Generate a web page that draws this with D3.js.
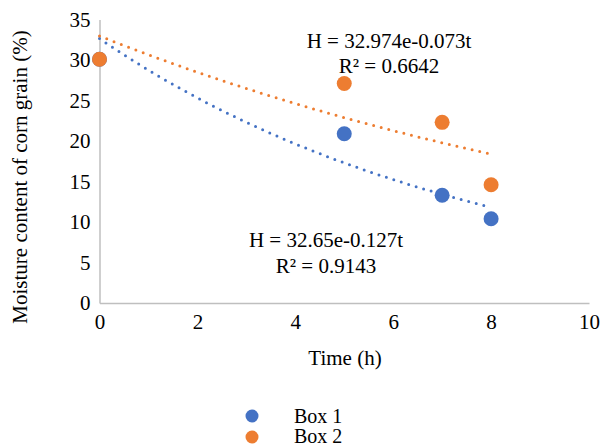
<!DOCTYPE html>
<html>
<head>
<meta charset="utf-8">
<script src="https://cdn.jsdelivr.net/npm/d3@7"></script>
<style>
  body { margin: 0; background: #fff; }
  text { font-family: "Liberation Serif", "Times New Roman", serif; fill: #000; }
</style>
</head>
<body>
<svg id="chart" width="603" height="448"></svg>
<script>
// data
var seriesNames = ["Box 1", "Box 2"];
var timeBox1 = [0, 5, 7, 8];
var moistBox1 = [30.1, 20.9, 13.3, 10.4];
var timeBox2 = [0, 5, 7, 8];
var moistBox2 = [30.1, 27.1, 22.3, 14.6];
// exponential trendline coefficients H = a e^(-b t)
var fitA = [32.65, 32.974];
var fitB = [0.127, 0.073];
var fitLabels = ["H = 32.65e-0.127t", "H = 32.974e-0.073t"];
var r2Labels = ["R² = 0.9143", "R² = 0.6642"];
var xTicks = [0, 2, 4, 6, 8, 10];
var yTicks = [0, 5, 10, 15, 20, 25, 30, 35];

var colors = ["#4472C4", "#ED7D31"];
var font = "'Liberation Serif', 'Times New Roman', serif";
var fs = "21px";

var margin = {left: 99.5, right: 14, top: 19.5, bottom: 145};
var width = 603 - margin.left - margin.right;
var height = 448 - margin.top - margin.bottom;

var svg = d3.select("#chart");
var g = svg.append("g")
    .attr("transform", "translate(" + [margin.left, margin.top] + ")");

var x = d3.scaleLinear().domain([0, 10]).range([0, width]);
var y = d3.scaleLinear().domain([0, 35]).range([height, 0]);

var xAxis = d3.axisBottom(x).tickValues(xTicks).tickSize(0).tickPadding(9);
var yAxis = d3.axisLeft(y).tickValues(yTicks).tickSize(0).tickPadding(9);

var gx = g.append("g").attr("transform", "translate(0," + height + ")").call(xAxis);
var gy = g.append("g").call(yAxis);
[gx, gy].forEach(function (a) {
    a.attr("font-family", null).attr("font-size", null);
    a.select(".domain").attr("stroke", "#bfbfbf").attr("stroke-width", 1.5);
    a.selectAll("text").style("font-size", fs)
        .style("font-family", font).attr("fill", "#000");
});
gy.selectAll("text").attr("dy", "0.33em");
gx.selectAll("text").attr("dy", "0.8em");

// trendlines
var fitTimes = d3.range(0, 8.01, 0.1);
var line = d3.line()
    .x(function (d) { return x(d[0]); })
    .y(function (d) { return y(d[1]); });

[0, 1].forEach(function (i) {
    var pts = fitTimes.map(function (t) { return [t, fitA[i] * Math.exp(-fitB[i] * t)]; });
    g.append("path")
        .datum(pts)
        .attr("d", line)
        .attr("fill", "none")
        .attr("stroke", colors[i])
        .attr("stroke-width", 3)
        .attr("stroke-linecap", "round")
        .attr("stroke-dasharray", "0 7.8");
});

// points
var series = [
    timeBox1.map(function (t, i) { return [t, moistBox1[i]]; }),
    timeBox2.map(function (t, i) { return [t, moistBox2[i]]; })
];
series.forEach(function (s, i) {
    g.selectAll(".pt" + i)
        .data(s)
        .enter()
        .append("circle")
        .attr("cx", function (d) { return x(d[0]); })
        .attr("cy", function (d) { return y(d[1]); })
        .attr("r", 7.5)
        .attr("fill", colors[i]);
});

// equation labels
var eqPos = [[326, 247, 273], [389, 48, 73]];
[0, 1].forEach(function (i) {
    svg.append("text").attr("x", eqPos[i][0]).attr("y", eqPos[i][1])
        .attr("text-anchor", "middle").style("font-size", fs).text(fitLabels[i]);
    svg.append("text").attr("x", eqPos[i][0]).attr("y", eqPos[i][2])
        .attr("text-anchor", "middle").style("font-size", fs).text(r2Labels[i]);
});

// axis titles
svg.append("text")
    .attr("x", 345)
    .attr("y", 365)
    .attr("text-anchor", "middle")
    .style("font-size", fs)
    .text("Time (h)");

svg.append("text")
    .attr("transform", "translate(27,177)rotate(-90)")
    .attr("text-anchor", "middle")
    .style("font-size", fs)
    .text("Moisture content of corn grain (%)");

// legend
var legend = svg.append("g");
seriesNames.forEach(function (name, i) {
    legend.append("circle")
        .attr("cx", 252).attr("cy", 416 + i * 21)
        .attr("r", 6.5).attr("fill", colors[i]);
    legend.append("text")
        .attr("x", 294).attr("y", 423 + i * 20)
        .style("font-size", "20px")
        .text(name);
});
</script>
</body>
</html>
